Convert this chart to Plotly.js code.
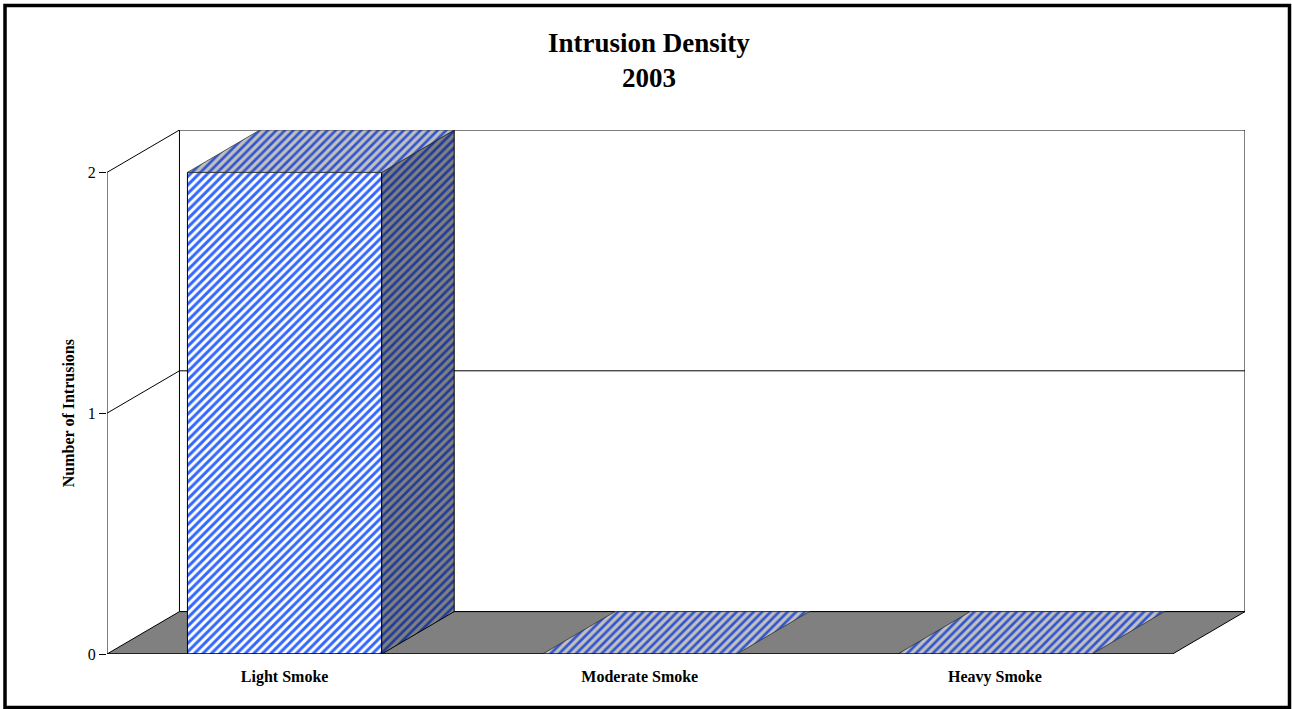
<!DOCTYPE html>
<html>
<head>
<meta charset="utf-8">
<script src="https://cdn.plot.ly/plotly-3.0.1.min.js"></script>
<style>
  html, body { margin: 0; padding: 0; background: #ffffff; }
  #chart { width: 1292px; height: 709px; }
</style>
</head>
<body>
<div id="chart"></div>
<script>
// ---- data ----
const categories = ["Light Smoke", "Moderate Smoke", "Heavy Smoke"];
const intrusions = [2, 0, 0];
const yTickValues = [0, 1, 2];
const yTickLabels = ["0", "1", "2"];
const chartTitle = "Intrusion Density<br>2003";
const yTitle = "Number of Intrusions";

// ---- 3D look parameters (styling, not data) ----
const depthX = 0.204;   // depth offset in category units
const depthY = 0.176;   // depth offset in value units
const barW = 0.547;
const yMax = yTickValues[yTickValues.length - 1];
const n = categories.length;
const xs = categories.map((_, i) => i);
const xL = -0.5, xR = n - 0.5;

const serif = "Liberation Serif, Times New Roman, serif";

// front faces
const front = {
  type: "bar",
  x: xs,
  y: intrusions,
  width: barW,
  marker: {
    color: "#ffffff",
    pattern: { shape: "/", fgcolor: "#3366ff", bgcolor: "#ffffff", size: 6, solidity: 0.5 },
    line: { color: "#000000", width: 1 }
  },
  hoverinfo: "skip"
};

// top faces
const topX = [], topY = [];
xs.forEach((x, i) => {
  const v = intrusions[i];
  const a = x - barW / 2, b = x + barW / 2;
  topX.push(a, b, b + depthX, a + depthX, a, null);
  topY.push(v, v, v + depthY, v + depthY, v, null);
});
const tops = {
  type: "scatter", mode: "lines",
  x: topX, y: topY,
  fill: "toself",
  fillcolor: "#c0c0c0",
  fillpattern: { shape: "/", fgcolor: "#3355cc", bgcolor: "#c0c0c0", size: 6, solidity: 0.45 },
  line: { color: "#333333", width: 0.8 },
  connectgaps: false,
  hoverinfo: "skip"
};

// side faces (only for bars with height)
const sideX = [], sideY = [];
xs.forEach((x, i) => {
  const v = intrusions[i];
  if (v <= 0) return;
  const b = x + barW / 2;
  sideX.push(b, b + depthX, b + depthX, b, b, null);
  sideY.push(0, depthY, v + depthY, v, 0, null);
});
const sides = {
  type: "scatter", mode: "lines",
  x: sideX, y: sideY,
  fill: "toself",
  fillcolor: "#808080",
  fillpattern: { shape: "/", fgcolor: "#1f3c99", bgcolor: "#808080", size: 6, solidity: 0.45 },
  line: { color: "#000000", width: 1 },
  connectgaps: false,
  hoverinfo: "skip"
};

// ---- walls, floor, grid, axes as shapes ----
const shapes = [];
// back wall
shapes.push({ type: "rect", xref: "x", yref: "y", layer: "below",
  x0: xL + depthX, x1: xR + depthX, y0: depthY, y1: yMax + depthY,
  fillcolor: "#ffffff", line: { color: "#000000", width: 1 } });
// gridlines: left wall diagonals + back wall horizontals
yTickValues.forEach(t => {
  if (t > 0) {
    shapes.push({ type: "line", xref: "x", yref: "y", layer: "below",
      x0: xL, y0: t, x1: xL + depthX, y1: t + depthY, line: { color: "#000000", width: 1 } });
  }
  if (t > 0 && t < yMax) {
    shapes.push({ type: "line", xref: "x", yref: "y", layer: "below",
      x0: xL + depthX, y0: t + depthY, x1: xR + depthX, y1: t + depthY, line: { color: "#000000", width: 1 } });
  }
});
// floor
shapes.push({ type: "path", xref: "x", yref: "y", layer: "below",
  path: `M ${xL},0 L ${xR},0 L ${xR + depthX},${depthY} L ${xL + depthX},${depthY} Z`,
  fillcolor: "#808080", line: { color: "#000000", width: 1 } });
// y axis line
shapes.push({ type: "line", xref: "x", yref: "y", layer: "above",
  x0: xL, y0: 0, x1: xL, y1: yMax, line: { color: "#000000", width: 1 } });
// x axis line
shapes.push({ type: "line", xref: "x", yref: "y", layer: "above",
  x0: xL, y0: 0, x1: xR, y1: 0, line: { color: "#000000", width: 1 } });
// x boundary ticks
for (let i = 0; i <= n; i++) {
  shapes.push({ type: "line", xref: "x", yref: "y", layer: "above",
    ysizemode: "pixel", yanchor: 0,
    x0: i - 0.5, x1: i - 0.5, y0: 0, y1: -7, line: { color: "#000000", width: 1 } });
}
// outer frame
shapes.push({ type: "rect", xref: "paper", yref: "paper", layer: "above",
  x0: (5 - 107) / 1138, x1: (1289.5 - 107) / 1138,
  y0: (654 - 707.5) / 524, y1: (654 - 5.5) / 524,
  fillcolor: "rgba(0,0,0,0)", line: { color: "#000000", width: 3.5 } });

const layout = {
  width: 1292, height: 709,
  margin: { l: 107, r: 47, t: 130, b: 55 },
  paper_bgcolor: "#ffffff",
  plot_bgcolor: "rgba(0,0,0,0)",
  showlegend: false,
  hovermode: false,
  annotations: [{
    text: chartTitle,
    showarrow: false,
    xref: "paper", yref: "paper",
    x: (649 - 107) / 1138, xanchor: "center",
    y: (654 - 26) / 524, yanchor: "top",
    font: { family: serif, size: 27, color: "#000000", weight: "bold" }
  }, {
    text: yTitle,
    showarrow: false,
    textangle: -90,
    xref: "paper", yref: "y",
    x: (68 - 107) / 1138, xanchor: "center",
    y: yMax / 2, yanchor: "middle",
    font: { family: serif, size: 16, color: "#000000", weight: "bold" }
  }],
  xaxis: {
    range: [xL, xR + depthX],
    tickvals: xs, ticktext: categories,
    ticks: "", showline: false, showgrid: false, zeroline: false,
    ticklabelstandoff: 11,
    tickfont: { family: serif, size: 16, color: "#000000", weight: "bold" },
    fixedrange: true
  },
  yaxis: {
    range: [0, yMax + depthY],
    tickvals: yTickValues, ticktext: yTickLabels,
    ticks: "outside", ticklen: 7, tickcolor: "#000000", tickwidth: 1,
    showline: false, showgrid: false, zeroline: false,
    tickfont: { family: serif, size: 16, color: "#000000" },
    fixedrange: true
  },
  shapes: shapes
};

Plotly.newPlot("chart", [front, sides, tops], layout, { displayModeBar: false, staticPlot: true });
</script>
</body>
</html>
